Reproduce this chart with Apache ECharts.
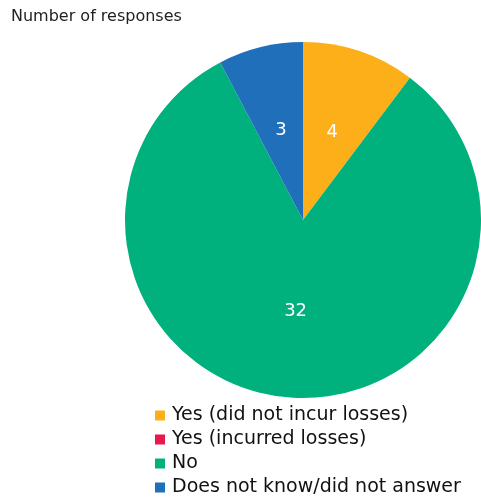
<!DOCTYPE html>
<html><head><meta charset="utf-8">
<script src="https://cdn.jsdelivr.net/npm/echarts@6/dist/echarts.min.js"></script>
<style>html,body{margin:0;padding:0;background:#fff}#c{width:481px;height:497px}</style>
</head><body><div id="c"></div>
<script>
const categories = ["Yes (did not incur losses)", "Yes (incurred losses)", "No", "Does not know/did not answer"];
const values = [4, 0, 32, 3];
const colors = ["#FDAF1A", "#E8194E", "#00B07D", "#1F6FBA"];
const chart = echarts.init(document.getElementById('c'));
chart.setOption({
  animation: false,
  title: { text: "Number of responses", left: 6, top: 4, textStyle: { fontFamily: "DejaVu Sans", fontSize: 16, fontWeight: "normal", color: "#222" } },
  legend: {
    orient: "vertical", left: 150, top: 401, height: 110, itemWidth: 10, itemHeight: 10, itemGap: 5, icon: "rect",
    selectedMode: false,
    textStyle: { fontFamily: "DejaVu Sans", fontSize: 19, color: "#111", padding: [0,0,0,2] },
    data: categories
  },
  series: [{
    type: "pie", center: [303, 220], radius: 178, startAngle: 90, clockwise: true,
    stillShowZeroSum: true, minAngle: 0,
    label: { show: true, position: "inside", color: "#fff", fontFamily: "DejaVu Sans", fontSize: 18, formatter: p => p.value > 0 ? String(p.value) : "" },
    labelLine: { show: false },
    itemStyle: { borderWidth: 0 },
    emphasis: { disabled: true },
    data: categories.map((n, i) => ({ name: n, value: values[i], itemStyle: { color: colors[i] } }))
  }]
});
</script></body></html>
